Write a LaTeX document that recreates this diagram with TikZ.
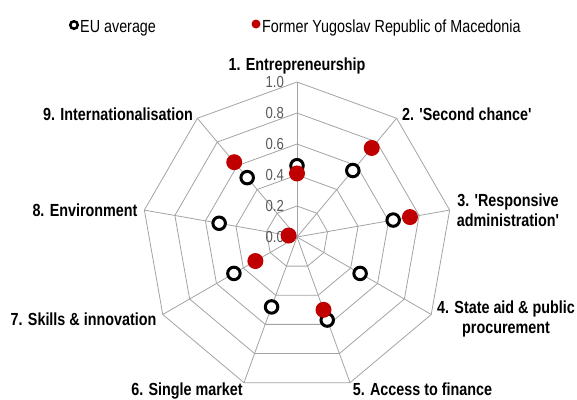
\documentclass[tikz,border=0pt]{standalone}
\usepackage{fontspec}
\setmainfont{Liberation Sans}[FakeStretch=0.82, Ligatures=TeXOff]
\definecolor{gridgray}{HTML}{A3A3A3}
\definecolor{tickgray}{HTML}{595959}
\definecolor{fyred}{HTML}{C00000}
\tikzset{
  gridline/.style={draw=gridgray, line width=0.8pt},
  catlabel/.style={font=\fontsize{17.5}{20}\selectfont\bfseries, inner sep=0pt, align=center},
  ticklabel/.style={font=\fontsize{16}{18}\selectfont, text=tickgray, anchor=east, inner sep=0pt},
  legendtext/.style={font=\fontsize{17.5}{20}\selectfont, anchor=base west, inner sep=0pt},
  euring/.style={circle, draw=black, line width=3pt, fill=white, inner sep=0pt, minimum size=12.5pt},
  fydot/.style={circle, fill=fyred, inner sep=0pt, minimum size=16pt},
  euringsmall/.style={circle, draw=black, line width=2.5pt, fill=white, inner sep=0pt, minimum size=7.5pt},
  fydotsmall/.style={circle, fill=fyred, inner sep=0pt, minimum size=9pt}
}
\begin{document}
\begin{tikzpicture}[x=1pt,y=1pt]
\useasboundingbox (0,0) rectangle (577,-399);
% legend
\node[euringsmall] (legeu) at (74,-25) {};
\node[legendtext] (legeutext) at (80,-32) {EU average};
\node[fydotsmall] (legfy) at (256,-24) {};
\node[legendtext] (legfytext) at (262,-32) {Former Yugoslav Republic of Macedonia};
% chart
\begin{scope}[shift={(297,-237)}]
  \foreach \r in {31,62,93,124,155}
    \draw[gridline] (90:\r) \foreach \k in {1,...,8}{ -- ({90-40*\k}:\r)} -- cycle;
  \foreach \k in {0,...,8}
    \draw[gridline] (0,0) -- ({90-40*\k}:155);
  \coordinate (C) at (0,0);
  % tick labels
  \foreach \t [count=\i from 0] in {0.0,0.2,0.4,0.6,0.8,1.0}
    \node[ticklabel] (tick\i) at (-13,{31*\i}) {\t};
  % EU average
  \foreach \v [count=\k from 0] in {0.46,0.56,0.63,0.47,0.57,0.48,0.47,0.51,0.50}
    \node[euring] (eu\k) at ({90-40*\k}:{\v*155}) {};
  % FYROM
  \node[fydot] (fy1) at (90:{0.41*155}) {};
  \node[fydot] (fy2) at (50:{0.75*155}) {};
  \node[fydot] (fy3) at (10:{0.74*155}) {};
  \node[fydot] (fy5) at (-70:{0.50*155}) {};
  \node[fydot] (fy7) at (-150:{0.31*155}) {};
  \node[fydot] (fy8) at (-190:{0.055*155}) {};
  \node[fydot] (fy9) at (-230:{0.63*155}) {};
\end{scope}
% category labels
\node[catlabel, anchor=base] (cat1) at (297,-70) {1. Entrepreneurship};
\node[catlabel, anchor=base west] (cat2) at (402,-120) {2. 'Second chance'};
\node[catlabel] (cat3) at (508,-210) {3. 'Responsive\\administration'};
\node[catlabel] (cat4) at (506,-319) {4. State aid \& public\\procurement};
\node[catlabel, anchor=base] (cat5) at (422.5,-395) {5. Access to finance};
\node[catlabel, anchor=base] (cat6) at (187,-395) {6. Single market};
\node[catlabel, anchor=base] (cat7) at (83.5,-325) {7. Skills \& innovation};
\node[catlabel, anchor=base] (cat8) at (85,-216) {8. Environment};
\node[catlabel, anchor=base] (cat9) at (118,-120) {9. Internationalisation};
\end{tikzpicture}
\end{document}
